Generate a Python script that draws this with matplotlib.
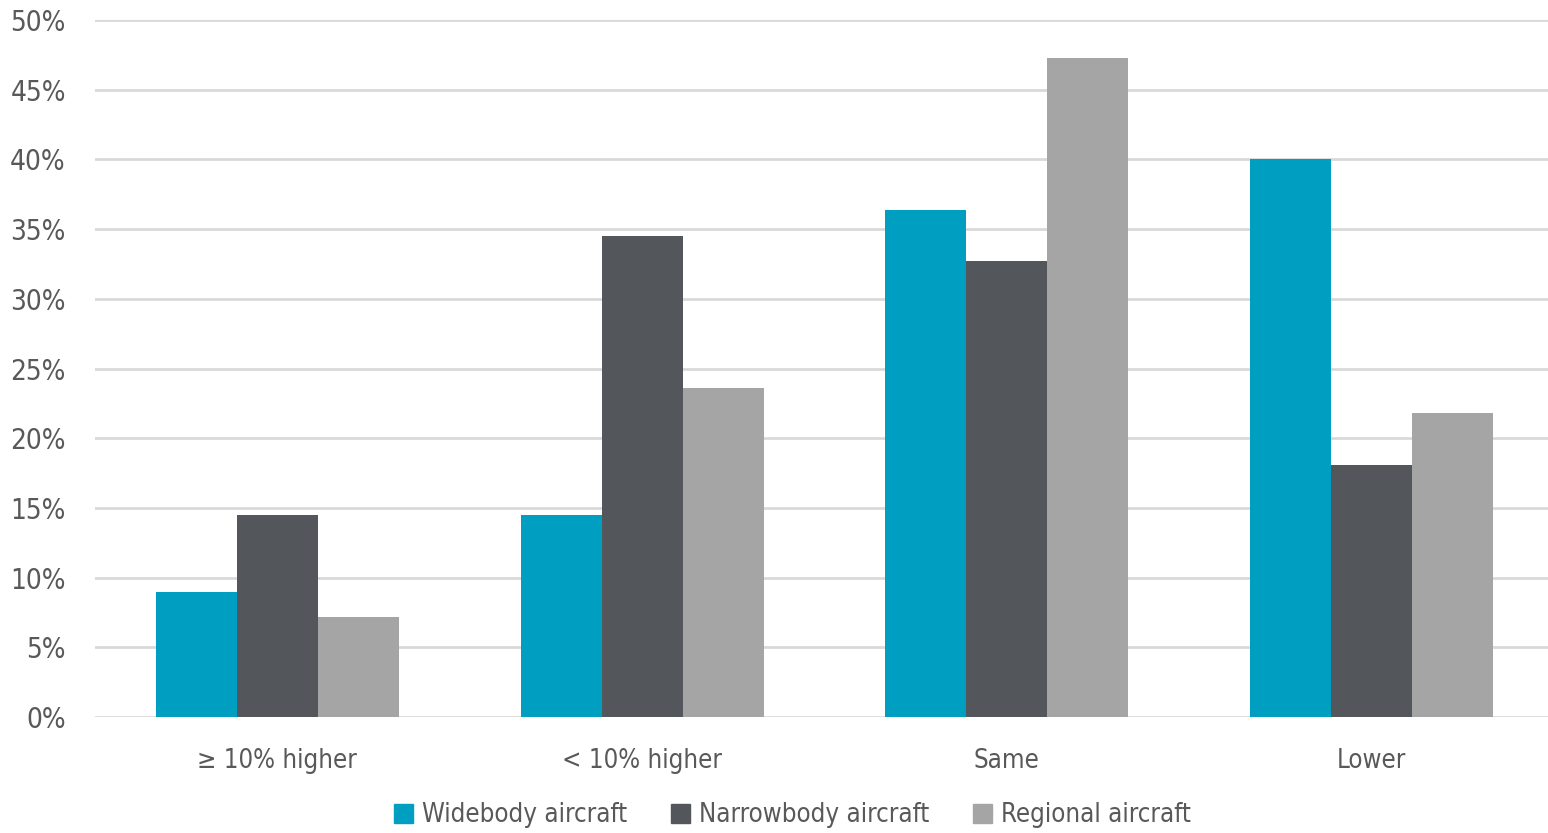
import matplotlib
matplotlib.use("Agg")
import matplotlib.pyplot as plt
import numpy as np
from matplotlib.patches import Patch
from matplotlib.ticker import FuncFormatter

categories = ["\u2265 10% higher", "< 10% higher", "Same", "Lower"]
series_names = ["Widebody aircraft", "Narrowbody aircraft", "Regional aircraft"]
widebody = [9.0, 14.5, 36.4, 40.0]
narrowbody = [14.5, 34.5, 32.7, 18.1]
regional = [7.2, 23.6, 47.3, 21.8]
colors = ["#009fc1", "#53565b", "#a5a5a5"]

plt.rcParams["font.family"] = ["DejaVu Sans"]
plt.rcParams["font.stretch"] = "condensed"

fig = plt.figure(figsize=(15.48, 8.33), dpi=100)
ax = fig.add_axes([95 / 1548, 1 - 717 / 833, (1554 - 95) / 1548, (717 - 20) / 833])

x = np.arange(len(categories))
w = 0.222
for i, vals in enumerate([widebody, narrowbody, regional]):
    ax.bar(x + (i - 1) * w, vals, width=w, color=colors[i], zorder=3)

ax.set_ylim(0, 50)
ax.set_xlim(-0.5, 3.5)
ax.set_yticks(np.arange(0, 51, 5))
ax.yaxis.set_major_formatter(FuncFormatter(lambda v, p: "%d%%" % v))
ax.grid(axis="y", color="#d9d9d9", linewidth=2, zorder=0)
for s in ax.spines.values():
    s.set_visible(False)
ax.tick_params(axis="both", length=0, labelcolor="#595959")
ax.tick_params(axis="y", pad=21, labelsize=20)
ax.tick_params(axis="x", pad=22, labelsize=18.5)
ax.set_xticks(x)
ax.set_xticklabels(categories)

handles = [Patch(color=c) for c in colors]
fig.legend(handles, series_names, loc="lower center", bbox_to_anchor=(0.512, -0.022),
           ncol=3, frameon=False, fontsize=18.5, handlelength=0.75, handleheight=0.75,
           handletextpad=0.35, columnspacing=1.7, labelcolor="#595959")

fig.savefig("out.png", dpi=100)
